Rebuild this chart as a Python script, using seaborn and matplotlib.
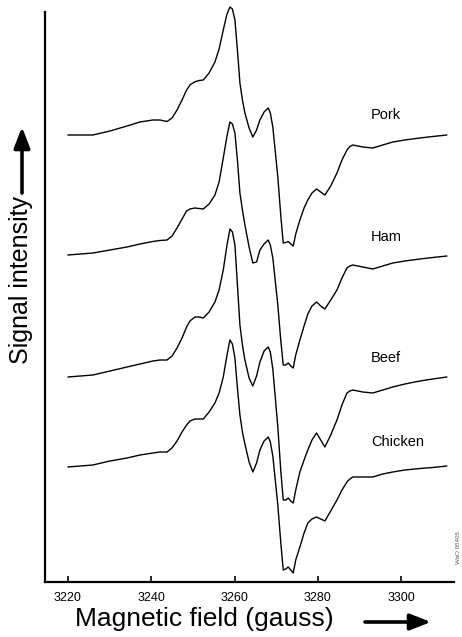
import numpy as np
import pandas as pd
import matplotlib
matplotlib.use("Agg")
import matplotlib.pyplot as plt
import seaborn as sns

# ---- data ----
field = [3220.0, 3226.0, 3230.1, 3234.2, 3237.3, 3240.4, 3242.1, 3243.8, 3245.0, 3246.2,
         3247.4, 3248.5, 3249.3, 3250.5, 3251.5, 3252.5, 3253.9, 3255.3, 3256.3, 3257.3,
         3258.2, 3258.9, 3259.5, 3260.1, 3260.7, 3261.3, 3261.9, 3262.5, 3263.5, 3264.4,
         3265.3, 3266.1, 3267.1, 3268.1, 3268.6, 3269.2, 3270.4, 3271.1, 3271.7, 3272.3,
         3272.9, 3273.5, 3274.1, 3274.7, 3275.7, 3276.7, 3277.6, 3278.6, 3279.7, 3280.7,
         3281.7, 3283.1, 3284.6, 3285.8, 3287.0, 3287.7, 3288.4, 3290.8, 3293.2, 3295.6,
         3298.0, 3300.9, 3304.5, 3307.6, 3311.0]

pork = [0, 0, 4, 9, 13, 15, 15, 13.5, 17, 25, 35, 45, 50, 53.3, 54.5, 55, 62, 73, 86, 105,
        121, 128, 126, 115, 85, 52, 35, 22, 7, -2, 5, 15, 23, 27, 22, 8, -42, -80, -108, -107.5,
        -106.5, -109, -111, -99, -85, -73, -65, -58, -54, -57, -60, -51, -38, -25, -15,
        -11.5, -10, -12, -13, -10, -7, -5, -3, -1.5, 0]
ham = [0, 2, 5, 8, 11, 13.5, 14.5, 15, 19, 27, 36, 44, 46, 47, 46.5, 46, 51, 60, 73, 97,
       119, 133, 131, 122, 95, 62, 45, 30, 8, -8, -7, 5, 11, 15, 10, -3, -50, -85, -110, -110,
       -108, -111, -113, -100, -85, -71, -59, -51, -47, -51, -54, -45, -35, -23, -13,
       -11, -10, -12, -14, -11, -8, -6, -4, -2.5, -1]
beef = [0, 2, 6, 10, 13, 16, 17, 17, 21, 29, 39, 50, 56, 60, 60, 59, 65, 75, 87, 107,
        132, 148, 145, 132, 92, 52, 32, 17, -1, -9, 1, 15, 26, 30, 25, 8, -50, -93, -123, -123,
        -121, -124, -126, -113, -95, -83, -73, -63, -56, -63, -70, -58, -43, -28, -16,
        -14, -13, -15, -16, -13, -10, -7, -4, -2, 0]
chicken = [0, 2, 6, 9, 12, 14, 15, 15, 19, 26, 35, 42, 46, 48, 48, 48, 55, 64, 74, 90,
           112, 127, 123, 109, 79, 52, 35, 23, 5, -5, 4, 17, 26, 30, 25, 11, -38, -75, -103, -102,
           -100, -103, -106, -93, -80, -66, -56, -52, -50, -52, -54, -44, -33, -23, -15,
           -12, -10, -10, -10, -7, -5, -3, -1.5, -0.5, 1]

samples = ["Pork", "Ham", "Beef", "Chicken"]
series = {"Pork": pork, "Ham": ham, "Beef": beef, "Chicken": chicken}
# vertical stacking offsets of the traces (arbitrary units)
offsets = {"Pork": 447, "Ham": 327, "Beef": 205, "Chicken": 115}
xticks = [3220, 3240, 3260, 3280, 3300]

# ---- build long table ----
rows = []
for s in samples:
    for f, v in zip(field, series[s]):
        rows.append({"field": f, "signal": v + offsets[s], "sample": s})
df = pd.DataFrame(rows)

sns.set_style("ticks")
plt.rcParams["font.family"] = ["Liberation Sans", "DejaVu Sans"]
plt.rcParams["text.color"] = "black"
plt.rcParams["axes.labelcolor"] = "black"
plt.rcParams["xtick.color"] = "black"

W, H = 462, 637
fig = plt.figure(figsize=(W / 100, H / 100), dpi=100)
ax = fig.add_axes([45 / W, (H - 582) / H, 409 / W, 570 / H])

sns.lineplot(data=df, x="field", y="signal", hue="sample", units="sample",
             estimator=None, palette={s: "black" for s in samples},
             legend=False, linewidth=1.0, ax=ax, sort=False)
for ln in ax.lines:
    ln.set_clip_on(False)
    ln.set_solid_joinstyle("round")

ax.set_xlim(3214.5, 3312.7)
ax.set_ylim(0, 570)
ax.set_xticks(xticks)
ax.set_xticklabels([str(t) for t in xticks])
ax.set_yticks([])
ax.tick_params(axis="x", direction="in", length=4, width=1.2, pad=7,
               labelsize=9, colors="black")
sns.despine(ax=ax)
for sp in ("left", "bottom"):
    ax.spines[sp].set_linewidth(1.6)
    ax.spines[sp].set_color("black")

ax.set_xlabel("Magnetic field (gauss)", fontsize=19, color="black")
ax.xaxis.set_label_coords((204 - 45) / 409, (582 - 607) / 570)
ax.set_ylabel("Signal intensity", fontsize=18, color="black")
ax.yaxis.set_label_coords((33 - 45) / 409, (582 - 280) / 570)

# sample labels
lab_x = 3292.8
lab_y = {"Pork": 467, "Ham": 345, "Beef": 224, "Chicken": 140}
for s in samples:
    ax.text(lab_x, lab_y[s], s, fontsize=10.5, ha="left", va="center", color="black")

# direction arrows
arrow_kw = dict(arrowstyle="-|>,head_length=0.9,head_width=0.35", lw=2.6, color="black",
                mutation_scale=14, shrinkA=0, shrinkB=0)
ax.annotate("", xy=(22 / W, (H - 127) / H), xytext=(22 / W, (H - 193) / H),
            xycoords="figure fraction", textcoords="figure fraction", arrowprops=arrow_kw)
ax.annotate("", xy=(431 / W, (H - 622) / H), xytext=(365 / W, (H - 622) / H),
            xycoords="figure fraction", textcoords="figure fraction", arrowprops=arrow_kw)

fig.text(458 / W, (H - 547) / H, "WaO 95405", rotation=90, fontsize=4.5,
         color="0.35", ha="center", va="center")

fig.savefig("out.png", dpi=100)
